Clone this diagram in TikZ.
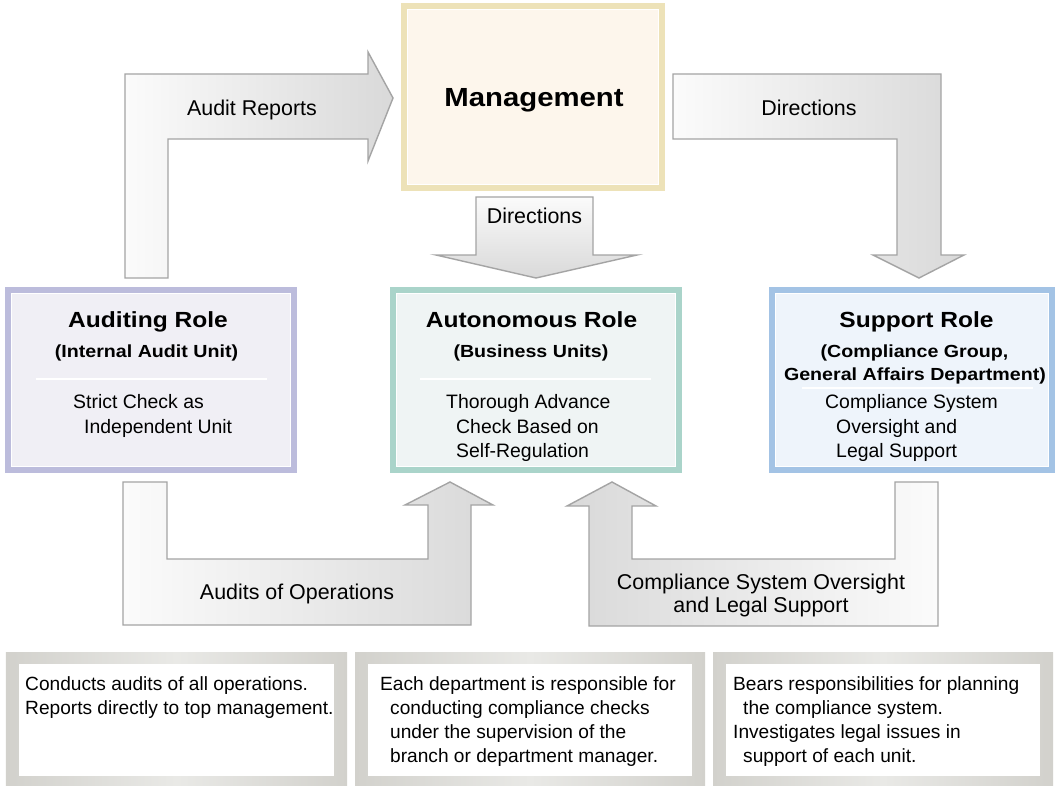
\documentclass[tikz,border=0pt]{standalone}
\usepackage{fontspec}
\setmainfont{Liberation Sans}
\newfontfamily\widebold{Liberation Sans}[FakeStretch=1.12]
\usetikzlibrary{calc}

\definecolor{arrowline}{HTML}{A4A4A4}
\definecolor{arrowlight}{HTML}{FBFBFB}
\definecolor{arrowdark}{HTML}{D9D9D9}
\definecolor{mgmtborder}{HTML}{EDE2B8}
\definecolor{mgmtfill}{HTML}{FDF6EC}
\definecolor{auditborder}{HTML}{BCBCDC}
\definecolor{auditfill}{HTML}{F0EFF5}
\definecolor{autoborder}{HTML}{AAD4CA}
\definecolor{autofill}{HTML}{EFF4F4}
\definecolor{suppborder}{HTML}{A3C3E5}
\definecolor{suppfill}{HTML}{EEF4FB}
\definecolor{framedark}{HTML}{D2D1CC}
\definecolor{framelight}{HTML}{E9E9E6}

\newcommand\txtbody{\fontsize{19.5}{24}\selectfont}
\newcommand\txtnote{\fontsize{19.2}{24}\selectfont}
\newcommand\txtlabel{\fontsize{21.5}{24}\selectfont}
\newcommand\txtmgmt{\widebold\bfseries\fontsize{26.3}{30}\selectfont}
\newcommand\txttitle{\widebold\bfseries\fontsize{22}{26}\selectfont}
\newcommand\txtsub{\widebold\bfseries\fontsize{17.6}{21}\selectfont}

\tikzset{
  rolebox/.style 2 args={draw=#1, fill=#2, line width=6bp, inner sep=0pt},
  blockarrow/.style={draw=arrowline, line width=1.4bp, line join=miter},
  noteframe/.style={inner sep=0pt, left color=framedark, right color=framedark, middle color=framelight},
  notepaper/.style={inner sep=0pt, fill=white},
  lnl/.style={anchor=base west, inner sep=0pt, font=\txtbody},
  nln/.style={anchor=base west, inner sep=0pt, font=\txtnote},
  lbl/.style={anchor=base, inner sep=0pt, font=\txtlabel},
  ttl/.style={anchor=base, inner sep=0pt, font=\txttitle},
  sub/.style={anchor=base, inner sep=0pt, font=\txtsub},
  sep/.style={draw=white, line width=2bp}
}

\begin{document}
\begin{tikzpicture}[x=1bp, y=-1bp]
\useasboundingbox[fill=white] (0,0) rectangle (1059,786);

% ---- boxes ----
\node[rolebox={mgmtborder}{mgmtfill}, minimum width=258bp, minimum height=182bp] (mgmt) at (533,97) {};
\node[rolebox={auditborder}{auditfill}, minimum width=286bp, minimum height=180bp] (audit) at (151,380) {};
\node[rolebox={autoborder}{autofill}, minimum width=286bp, minimum height=180bp] (auto) at (536,380) {};
\node[rolebox={suppborder}{suppfill}, minimum width=280bp, minimum height=180bp] (supp) at (912,380) {};
% thin white rule just inside each thick border (anchors sit on the outer edge)
\foreach \b in {mgmt,audit,auto,supp}
  \draw[white, line width=1bp] ([shift={(6.5,6.5)}]\b.north west) rectangle ([shift={(-6.5,-6.5)}]\b.south east);

% ---- block arrows ----
% audit reports: auditing role up and over to management
\path[blockarrow, left color=arrowlight, right color=arrowdark]
  (125,278) -- (125,74) -- (368,74) -- (368,52) -- (393,98) -- (368,161) -- (368,139)
  -- (168,139) -- (168,278) -- cycle;
% directions: management across and down to support role
\path[blockarrow, left color=arrowlight, right color=arrowdark]
  (673,74) -- (941,74) -- (941,255) -- (964,255) -- (919,278) -- (873,255) -- (897,255)
  -- (897,139) -- (673,139) -- cycle;
% directions: management straight down to autonomous role
\path[blockarrow, top color=arrowlight, bottom color=arrowdark]
  (476,197) -- (593,197) -- (593,255) -- (637,255) -- (536,278) -- (436,255) -- (476,255) -- cycle;
% audits of operations: auditing role under and up to autonomous role
\path[blockarrow, left color=arrowlight, right color=arrowdark]
  (123,482) -- (167,482) -- (167,559) -- (428,559) -- (428,505) -- (405,505) -- (450,482)
  -- (493,505) -- (471,505) -- (471,625) -- (123,625) -- cycle;
% oversight and legal support: support role under and up to autonomous role
\path[blockarrow, left color=arrowdark, right color=arrowlight]
  (938,482) -- (938,626) -- (589,626) -- (589,506) -- (567,506) -- (612,482) -- (656,506)
  -- (632,506) -- (632,559) -- (895,559) -- (895,482) -- cycle;

% ---- arrow labels ----
\node[lbl] (lblar) at (252,115) {Audit Reports};
\node[lbl] (lbldr) at (809,115) {Directions};
\node[lbl] (lbldc) at (534.5,223) {Directions};
\node[lbl] (lblao) at (297,599) {Audits of Operations};
\node[lbl] (lblcs1) at (761,589) {Compliance System Oversight};
\node[lbl] (lblcs2) at (761,612) {and Legal Support};

% ---- management ----
\node[anchor=base, inner sep=0pt, font=\txtmgmt] (mgmttxt) at (534,106) {Management};

% ---- auditing role ----
\node[ttl] (auditttl) at (148,327) {Auditing Role};
\node[sub] (auditsub) at (146.5,357) {(Internal Audit Unit)};
\draw[sep] (36,379) -- (267,379);
\node[lnl] (auditb1) at (73,408) {Strict Check as};
\node[lnl] (auditb2) at (84,433) {Independent Unit};

% ---- autonomous role ----
\node[ttl] (autottl) at (531.5,327) {Autonomous Role};
\node[sub] (autosub) at (531,357) {(Business Units)};
\draw[sep] (420,379) -- (651,379);
\node[lnl] (autob1) at (446,408) {Thorough Advance};
\node[lnl] (autob2) at (456,433) {Check Based on};
\node[lnl] (autob3) at (456,457) {Self-Regulation};

% ---- support role ----
\node[ttl] (suppttl) at (916.5,327) {Support Role};
\node[sub] (suppsub1) at (914.5,357) {(Compliance Group,};
\node[sub] (suppsub2) at (915,380) {General Affairs Department)};
\draw[sep] (802,388) -- (1033,388);
\node[lnl] (suppb1) at (825,408) {Compliance System};
\node[lnl] (suppb2) at (836,433) {Oversight and};
\node[lnl] (suppb3) at (836,457) {Legal Support};

% ---- notes ----
\node[noteframe, minimum width=341bp, minimum height=136bp] (note1) at (176.5,720) {};
\node[notepaper, minimum width=315bp, minimum height=112bp] (paper1) at (176.5,720) {};
\node[noteframe, minimum width=350bp, minimum height=136bp] (note2) at (530,720) {};
\node[notepaper, minimum width=324bp, minimum height=112bp] (paper2) at (530,720) {};
\node[noteframe, minimum width=340bp, minimum height=136bp] (note3) at (883,720) {};
\node[notepaper, minimum width=314bp, minimum height=112bp] (paper3) at (883,720) {};

\node[nln] (n1a) at (25,690) {Conducts audits of all operations.};
\node[nln] (n1b) at (25,714) {Reports directly to top management.};

\node[nln] (n2a) at (380,690) {Each department is responsible for};
\node[nln] (n2b) at (390,714) {conducting compliance checks};
\node[nln] (n2c) at (390,738) {under the supervision of the};
\node[nln] (n2d) at (390,762) {branch or department manager.};

\node[nln] (n3a) at (733,690) {Bears responsibilities for planning};
\node[nln] (n3b) at (743,714) {the compliance system.};
\node[nln] (n3c) at (733,738) {Investigates legal issues in};
\node[nln] (n3d) at (743,762) {support of each unit.};
\end{tikzpicture}
\end{document}
